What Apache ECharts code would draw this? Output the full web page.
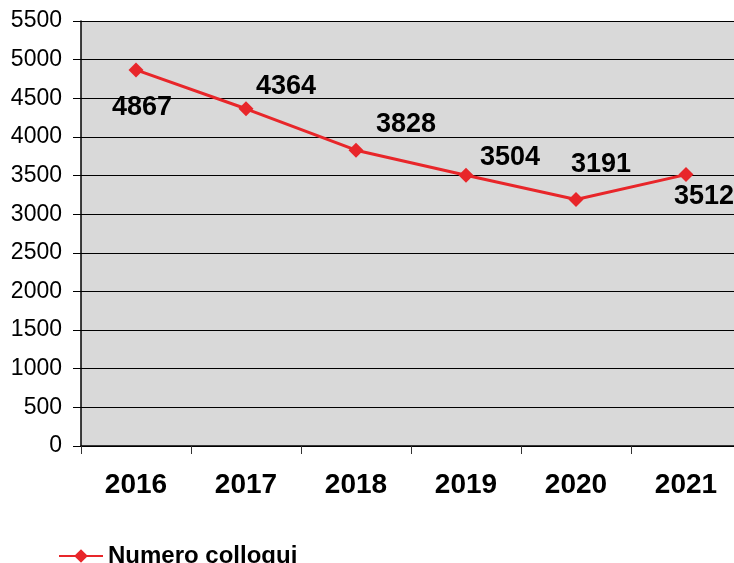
<!DOCTYPE html>
<html>
<head>
<meta charset="utf-8">
<script src="https://cdn.jsdelivr.net/npm/echarts@6/dist/echarts.min.js"></script>
<style>
  html, body { margin: 0; padding: 0; background: #fff; }
  #main { width: 734px; height: 563px; }
</style>
</head>
<body>
<div id="main"></div>
<script>
var years = ['2016', '2017', '2018', '2019', '2020', '2021'];
var colloqui = [4867, 4364, 3828, 3504, 3191, 3512];
var seriesName = 'Numero colloqui';

// spostamento delle etichette rispetto al punto
var labelOffsets = [[6, 38], [40, -22], [50, -26], [44, -18], [25, -35], [18, 22]];

var chartDom = document.getElementById('main');
var myChart = echarts.init(chartDom);

var option = {
    animation: false,
    textStyle: { fontFamily: 'Liberation Sans, Arial, sans-serif' },
    legend: {
        left: 53,
        top: 539,
        itemWidth: 44,
        itemHeight: 17,
        itemGap: 10,
        textStyle: { fontSize: 24, fontWeight: 'bold', color: '#000' },
        data: [seriesName]
    },
    grid: {
        left: 81,
        top: 21,
        width: 660,
        height: 425,
        outerBoundsMode: 'none',
        show: true,
        backgroundColor: '#d9d9d9',
        borderWidth: 0
    },
    xAxis: {
        type: 'category',
        data: years,
        boundaryGap: true,
        axisLine: { lineStyle: { color: '#000', width: 1.5 } },
        axisTick: { show: true, length: 8, lineStyle: { color: '#333' } },
        axisLabel: { fontSize: 28, fontWeight: 'bold', color: '#000', margin: 25 }
    },
    yAxis: {
        type: 'value',
        min: 0,
        max: 5500,
        interval: 500,
        axisLine: { show: true, lineStyle: { color: '#000', width: 1.5 } },
        axisTick: { show: true, inside: false, length: 8, lineStyle: { color: '#000' } },
        axisLabel: {
            fontSize: 23,
            color: '#000',
            margin: 19,
            formatter: function (v) { return String(v); }
        },
        splitLine: { lineStyle: { color: '#000', width: 1 } }
    },
    series: [
        {
            name: seriesName,
            type: 'line',
            data: colloqui.map(function (v, i) {
                return { value: v, label: { offset: labelOffsets[i] } };
            }),
            symbol: 'diamond',
            symbolSize: 15,
            lineStyle: { color: '#e8262a', width: 3 },
            itemStyle: { color: '#e8262a' },
            label: {
                show: true,
                position: 'inside',
                fontSize: 27,
                fontWeight: 'bold',
                color: '#000'
            }
        }
    ]
};

myChart.setOption(option);
</script>
</body>
</html>
